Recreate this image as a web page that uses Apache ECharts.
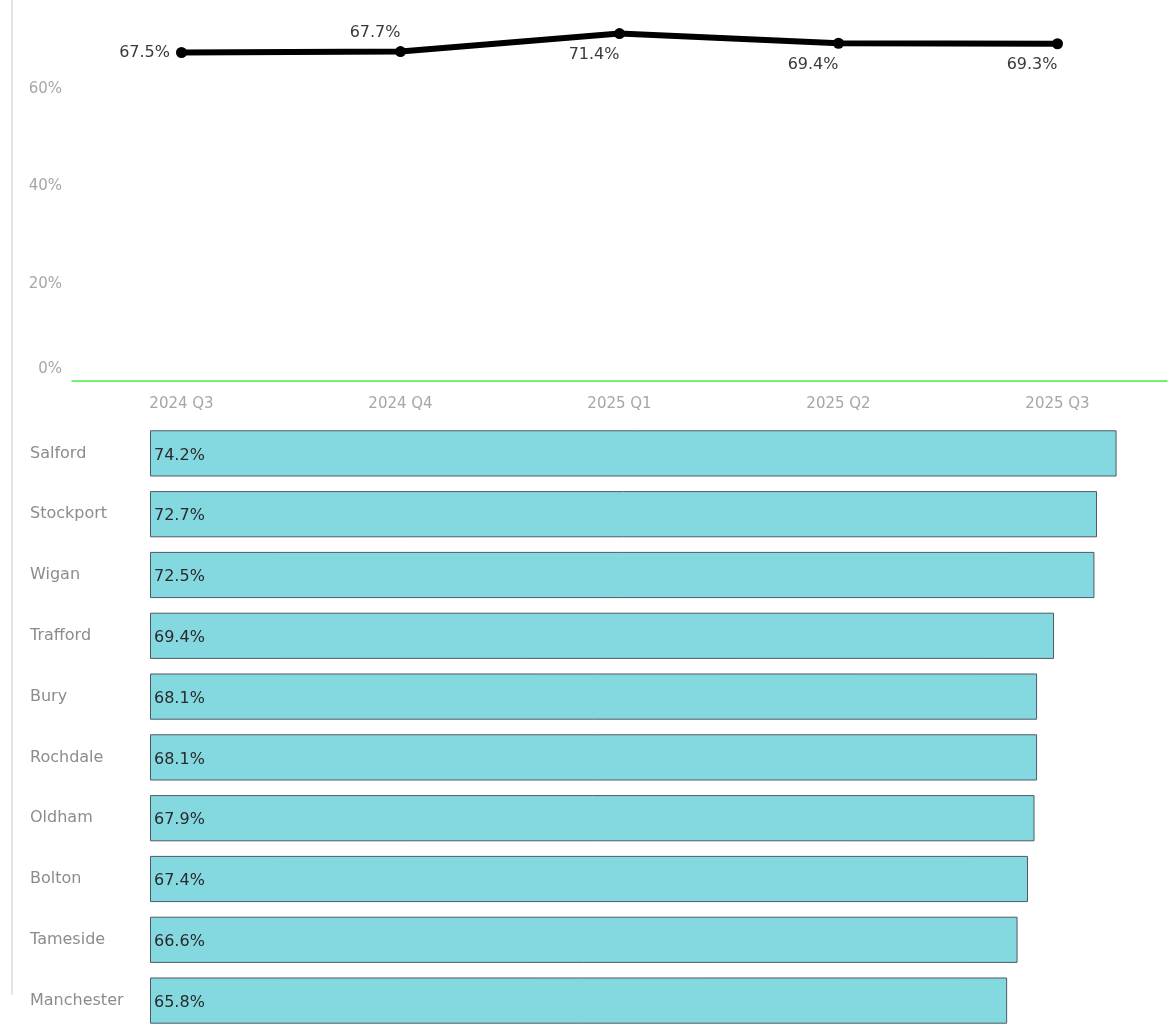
<!DOCTYPE html>
<html>
<head>
<meta charset="utf-8">
<style>html,body{margin:0;padding:0;background:#fff;}#c{width:1170px;height:1031px;}</style>
<script src="https://cdn.jsdelivr.net/npm/echarts@6/dist/echarts.min.js"></script>
</head>
<body>
<div id="c"></div>
<script>
const quarters = ['2024 Q3', '2024 Q4', '2025 Q1', '2025 Q2', '2025 Q3'];
const trendValues = [67.5, 67.7, 71.4, 69.4, 69.3];
const yTicks = [0, 20, 40, 60];
const areas = ['Salford', 'Stockport', 'Wigan', 'Trafford', 'Bury', 'Rochdale', 'Oldham', 'Bolton', 'Tameside', 'Manchester'];
const areaValues = [74.2, 72.7, 72.5, 69.4, 68.1, 68.1, 67.9, 67.4, 66.6, 65.8];

const labelPlacement = [
  {position: 'left', align: 'right', distance: 6},
  {position: 'top', align: 'right', distance: 5},
  {position: 'bottom', align: 'right', distance: 8},
  {position: 'bottom', align: 'right', distance: 8},
  {position: 'bottom', align: 'right', distance: 8}
];

const font = '"DejaVu Sans", Verdana, sans-serif';
const chart = echarts.init(document.getElementById('c'), null, {renderer: 'canvas'});

chart.setOption({
  animation: false,
  backgroundColor: '#fff',
  graphic: [
    {type: 'rect', shape: {x: 11, y: 0, width: 2, height: 995}, style: {fill: '#e4e4e4'}, silent: true}
  ],
  grid: [
    {left: 72, right: 3, top: 16, height: 365, containLabel: false},
    {left: 150, top: 423, height: 613, width: 990, containLabel: false}
  ],
  xAxis: [
    {
      gridIndex: 0, type: 'category', data: quarters, boundaryGap: true,
      axisLine: {show: true, onZero: false, lineStyle: {color: '#44f044', width: 1.5, opacity: 1}},
      axisTick: {show: false},
      axisLabel: {color: '#a6a6a6', fontSize: 15, fontFamily: font, margin: 16}
    },
    {
      gridIndex: 1, type: 'value', min: 0, max: 76, show: false
    }
  ],
  yAxis: [
    {
      gridIndex: 0, type: 'value', min: 0, max: 75, interval: 20,
      axisLine: {show: false}, axisTick: {show: false}, splitLine: {show: false},
      axisLabel: {
        color: '#a6a6a6', fontSize: 15, fontFamily: font, margin: 10,
        formatter: v => yTicks.includes(v) ? (v === 0 ? '{z|0%}' : v + '%') : '',
        rich: {z: {color: '#a6a6a6', fontSize: 15, fontFamily: font, padding: [0, 0, 24, 0]}}
      }
    },
    {
      gridIndex: 1, type: 'category', data: areas, inverse: true,
      axisLine: {show: false}, axisTick: {show: false},
      axisLabel: {color: '#8c8c8c', fontSize: 16, fontFamily: font, align: 'left', margin: 120, padding: [10, 0, 0, 0]}
    }
  ],
  series: [
    {
      type: 'line', xAxisIndex: 0, yAxisIndex: 0,
      data: trendValues.map((v, i) => ({
        value: v,
        label: {
          show: true,
          position: labelPlacement[i].position,
          align: labelPlacement[i].align,
          distance: labelPlacement[i].distance
        }
      })),
      symbol: 'circle', symbolSize: 11,
      lineStyle: {color: '#000', width: 6},
      itemStyle: {color: '#000'},
      label: {show: true, color: '#3a3a3a', fontSize: 16, fontFamily: font, formatter: p => p.value.toFixed(1) + '%'}
    },
    {
      type: 'bar', xAxisIndex: 1, yAxisIndex: 1,
      data: areaValues,
      barCategoryGap: '24%',
      itemStyle: {color: '#84d9e0', borderColor: '#4e5a66', borderWidth: 1},
      label: {
        show: true, position: 'insideLeft', distance: 4, offset: [0, 2],
        color: '#2a2a2a', fontSize: 16, fontFamily: font,
        formatter: p => p.value.toFixed(1) + '%'
      }
    }
  ]
});
</script>
</body>
</html>
